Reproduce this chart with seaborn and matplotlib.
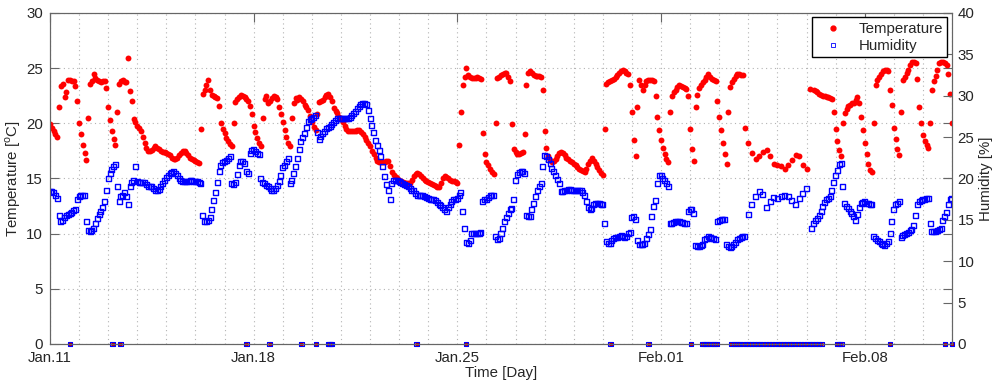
import numpy as np
import pandas as pd
import matplotlib
matplotlib.use("Agg")
import matplotlib.pyplot as plt
import matplotlib.dates as mdates
from matplotlib.lines import Line2D
import seaborn as sns

nan = float("nan")

# logger readings every 1.5 hours starting Jan.11 00:00 (nan = no reading)
start = pd.Timestamp("2013-01-11")

temperature = [
    19.9, 19.6, 19.3, 19.0, 18.8, 21.5, 23.4, 23.6, 22.4, 22.8, 23.9, 23.9, 23.8, 23.8, 23.4, 22.0,  # Jan.11
    20.0, 19.0, 18.0, 17.3, 16.7, 20.5, 23.6, 23.8, 24.5, 24.1, 23.9, 23.8, 23.7, 23.8, 23.8, 23.2,  # Jan.12
    21.5, 20.3, 19.3, 18.6, 18.0, 21.0, 23.6, 23.8, 23.9, 23.7, 23.7, 25.9, 22.9, 22.0, 20.4, 20.1,  # Jan.13
    19.8, 19.6, 19.3, 18.8, 18.2, 17.8, 17.5, 17.5, 17.6, 17.8, 17.9, 17.8, 17.7, 17.5, 17.4, 17.4,  # Jan.14
    17.3, 17.2, 17.1, 16.9, 16.8, 16.8, 16.9, 17.1, 17.3, 17.5, 17.5, 17.3, 17.1, 16.9, 16.8, 16.7,  # Jan.15
    16.6, 16.5, 16.4, 19.5, 22.7, 23.0, 23.5, 23.9, 23.0, 22.6, 22.5, 22.4, 22.3, 21.6, 20.0, 19.5,  # Jan.16
    19.1, 18.7, 18.4, 18.1, 17.9, 20.0, 21.9, 22.2, 22.4, 22.6, 22.5, 22.4, 22.2, 22.0, 21.6, 20.8,  # Jan.17
    19.8, 19.2, 18.7, 18.2, 17.9, 20.5, 22.2, 22.5, 21.8, 22.0, 22.3, 22.5, 22.4, 22.2, 21.5, 20.8,  # Jan.18
    20.1, 19.4, 18.8, 18.2, 17.9, 20.5, 21.8, 22.3, 22.1, 22.4, 22.2, 22.0, 21.7, 21.5, 21.2, 20.7,  # Jan.19
    20.1, 19.7, 19.4, 20.8, 21.9, 22.0, 22.1, 22.4, 22.6, 22.7, 22.4, 22.0, 21.4, 21.1, 20.9, 20.6,  # Jan.20
    20.4, 20.1, 19.8, 19.5, 19.3, 19.3, 19.3, 19.3, 19.3, 19.4, 19.4, 19.2, 19.0, 18.8, 18.5, 18.2,  # Jan.21
    17.9, 17.5, 17.2, 16.9, 16.6, 16.5, 16.5, 16.5, 16.5, 16.6, 16.6, 16.1, 15.6, 15.3, 15.1, 15.0,  # Jan.22
    14.9, 14.8, 14.7, 14.6, 14.6, 14.6, 14.6, 14.9, 15.2, 15.4, 15.5, 15.4, 15.2, 15.0, 14.9, 14.8,  # Jan.23
    14.7, 14.6, 14.5, 14.4, 14.3, 14.2, 14.2, 14.6, 15.0, 15.2, 15.1, 15.0, 14.9, 14.8, 14.8, 14.7,  # Jan.24
    14.6, 18.0, 21.0, 23.5, 24.2, 25.0, 24.4, 24.2, 24.1, 24.1, 24.1, 24.2, 24.1, 24.0, 19.1, 17.2,  # Jan.25
    16.5, 16.2, 15.9, 15.6, 15.4, 20.0, 24.1, 24.2, 24.4, 24.5, 24.6, 24.6, 24.2, 23.8, 19.9, 17.7,  # Jan.26
    17.4, 17.2, 17.2, 17.3, 17.4, 19.0, 23.5, 24.6, 24.7, 24.6, 24.4, 24.3, 24.3, 24.3, 24.2, 23.0,  # Jan.27
    19.3, 17.8, 17.0, 16.7, 16.5, 16.6, 16.8, 17.0, 17.3, 17.4, 17.3, 17.1, 16.9, 16.8, 16.6, 16.5,  # Jan.28
    16.3, 16.2, 16.0, 15.9, 15.8, 15.7, 15.6, 15.9, 16.3, 16.6, 16.9, 16.6, 16.3, 16.0, 15.8, 15.5,  # Jan.29
    15.3, 19.5, 23.6, 23.7, 23.8, 23.9, 24.0, 24.2, 24.4, 24.6, 24.7, 24.8, 24.7, 24.6, 24.5, 23.5,  # Jan.30
    21.0, 18.5, 17.0, 21.5, 23.9, 23.5, 23.0, 23.5, 23.8, 23.9, 23.9, 23.9, 23.8, 22.5, 20.6, 19.4,  # Jan.31
    18.5, 17.8, 17.2, 16.8, 16.5, 21.0, 22.5, 22.8, 23.0, 23.3, 23.5, 23.4, 23.3, 23.2, 23.1, 22.5,  # Feb.01
    19.5, 17.7, 16.6, 21.5, 22.6, 23.2, 23.5, 23.7, 23.9, 24.2, 24.5, 24.2, 24.0, 23.9, 23.8, 22.0,  # Feb.02
    20.6, 19.4, 18.2, 17.2, 16.3, 21.0, 23.3, 23.7, 24.0, 24.3, 24.5, 24.5, 24.4, 24.4, 19.6, nan,   # Feb.03
    18.2, nan, 17.3, nan, 16.8, nan, 17.0, nan, 17.4, nan, 17.6, nan, 17.0, nan, 16.3, nan,          # Feb.04
    16.2, nan, 16.1, nan, 15.9, nan, 16.2, nan, 16.7, nan, 17.1, nan, 17.0, nan, 16.2, nan,          # Feb.05
    15.9, nan, 23.1, nan, 23.0, 22.9, 22.8, 22.7, 22.6, 22.5, 22.5, 22.4, 22.4, 22.3, 22.2, 21.0,    # Feb.06
    19.5, 18.4, 17.6, 17.0, 20.0, 20.9, 21.3, 21.6, 21.7, 21.8, 21.8, 22.1, 22.4, 21.8, 20.6, 19.4,  # Feb.07
    18.2, 17.2, 16.3, 15.8, 15.6, 20.0, 23.5, 23.9, 24.2, 24.5, 24.7, 24.8, 24.8, 24.7, 23.0, 21.7,  # Feb.08
    19.6, 18.6, 17.7, 17.1, 21.0, 23.9, 24.2, 24.6, 24.8, 25.3, 25.6, 25.6, 25.5, 24.0, 21.5, 20.0,  # Feb.09
    18.9, 18.4, 18.0, 17.8, 20.0, 23.0, 23.8, 24.3, 24.8, 25.5, 25.6, 25.6, 25.5, 25.3, 24.5, 22.7,  # Feb.10
    20.0,
]

humidity = [
    18.4, 18.4, 18.3, 18.0, 17.6, 15.5, 14.8, 14.9, 15.3, 15.5, 15.7, 15.8, 15.9, 16.1, 16.3, 17.5,  # Jan.11
    17.8, 18.0, 18.0, 17.9, 14.8, 13.7, 13.6, 13.7, 14.0, 14.6, 15.2, 15.6, 16.0, 16.5, 17.2, 18.5,  # Jan.12
    20.0, 20.6, 21.1, 21.4, 21.7, 19.0, 17.2, 17.8, 18.0, 18.3, 17.8, 16.8, 19.0, 19.5, 19.8, 21.4,  # Jan.13
    19.6, 19.5, 19.5, 19.5, 19.5, 19.3, 19.0, 19.0, 19.0, 18.8, 18.6, 18.6, 18.7, 19.0, 19.4, 19.8,  # Jan.14
    20.1, 20.4, 20.6, 20.7, 20.8, 20.6, 20.3, 20.0, 19.7, 19.6, 19.6, 19.6, 19.6, 19.7, 19.7, 19.6,  # Jan.15
    19.6, 19.6, 19.5, 19.4, 15.5, 14.8, 14.8, 14.9, 15.3, 16.3, 17.3, 18.3, 19.5, 20.9, 21.6, 21.9,  # Jan.16
    22.0, 22.2, 22.4, 22.6, 19.4, 19.3, 19.5, 20.5, 21.6, 22.0, 22.0, 21.8, 20.8, 20.6, 23.0, 23.4,  # Jan.17
    23.5, 23.3, 23.0, 22.9, 20.0, 19.5, 19.4, 19.2, 19.0, 18.8, 18.6, 18.6, 18.8, 19.1, 19.6, 20.3,  # Jan.18
    21.3, 21.6, 22.0, 22.4, 19.4, 19.8, 20.6, 21.5, 22.4, 23.5, 24.5, 25.0, 25.4, 26.1, 26.9, 27.1,  # Jan.19
    27.2, 27.4, 27.6, 25.5, 24.7, 25.1, 25.4, 25.7, 26.0, 26.2, 26.3, 26.5, 26.8, 27.0, 27.2, 27.3,  # Jan.20
    27.3, 27.3, 27.3, 27.3, 27.3, 27.4, 27.6, 27.8, 28.1, 28.4, 28.7, 28.9, 29.1, 29.0, 28.9, 28.2,  # Jan.21
    27.2, 26.4, 25.5, 24.6, 24.0, 23.4, 22.7, 21.5, 20.2, 19.3, 18.5, 17.5, 19.4, 19.7, 19.8, 19.7,  # Jan.22
    19.6, 19.5, 19.4, 19.3, 19.1, 19.0, 18.8, 18.6, 18.5, 18.2, 17.9, 17.9, 18.0, 17.9, 17.8, 17.7,  # Jan.23
    17.6, 17.5, 17.5, 17.4, 17.3, 17.1, 16.9, 16.7, 16.5, 16.2, 16.0, 16.5, 16.9, 17.2, 17.4, 17.5,  # Jan.24
    17.6, 18.0, 18.3, 16.0, 14.0, 12.3, 12.2, 12.5, 13.3, 13.4, 13.4, 13.3, 13.3, 13.5, 17.2, 17.4,  # Jan.25
    17.5, 17.7, 17.9, 17.9, 18.0, 13.0, 12.6, 12.8, 13.3, 14.0, 14.8, 15.3, 15.8, 16.2, 16.4, 17.5,  # Jan.26
    19.8, 20.5, 20.7, 20.8, 20.8, 20.6, 15.5, 15.4, 15.4, 16.2, 17.0, 17.8, 18.6, 19.0, 19.4, 21.5,  # Jan.27
    22.8, 22.6, 22.3, 21.8, 21.2, 20.8, 20.4, 19.9, 19.4, 18.4, 18.4, 18.5, 18.6, 18.7, 18.7, 18.6,  # Jan.28
    18.6, 18.6, 18.6, 18.5, 18.5, 18.3, 17.9, 17.2, 16.5, 16.2, 16.4, 16.8, 17.0, 17.0, 17.0, 16.9,  # Jan.29
    16.9, 14.5, 12.4, 12.2, 12.2, 12.5, 12.8, 12.9, 12.9, 13.0, 13.1, 13.0, 12.9, 13.0, 13.3, 13.5,  # Jan.30
    15.3, 15.4, 15.0, 12.5, 12.0, 12.0, 12.0, 12.1, 12.8, 13.2, 13.8, 15.4, 16.6, 17.3, 19.4, 20.3,  # Jan.31
    20.3, 20.0, 19.7, 19.4, 19.0, 14.5, 14.5, 14.7, 14.8, 14.8, 14.8, 14.7, 14.7, 14.6, 14.6, 16.0,  # Feb.01
    16.2, 16.2, 15.8, 11.9, 11.8, 11.8, 11.9, 12.0, 12.6, 12.8, 13.0, 12.9, 12.8, 12.7, 12.6, 14.8,  # Feb.02
    14.9, 15.0, 15.0, 15.0, 12.0, 11.8, 11.7, 11.8, 12.0, 12.3, 12.6, 12.8, 12.9, 13.0, 13.0, nan,   # Feb.03
    15.6, nan, 16.9, nan, 17.8, nan, 18.4, nan, 18.1, nan, 16.5, nan, 17.2, nan, 17.7, nan,          # Feb.04
    17.6, nan, 17.8, nan, 18.0, nan, 17.8, nan, 17.3, nan, 16.9, nan, 17.6, nan, 18.2, nan,          # Feb.05
    18.8, nan, nan, 14.0, 14.6, 14.9, 15.2, 15.5, 16.0, 16.6, 17.1, 17.4, 17.6, 17.8, 18.5, 19.5,    # Feb.06
    20.4, 21.0, 21.7, 21.8, 19.0, 17.0, 16.6, 16.4, 16.0, 15.8, 15.4, 14.9, 15.6, 16.5, 17.0, 17.1,  # Feb.07
    17.2, 17.0, 17.0, 16.9, 16.8, 13.0, 12.7, 12.5, 12.4, 12.2, 12.0, 11.9, 12.1, 12.4, 13.4, 14.8,  # Feb.08
    16.2, 16.8, 17.0, 17.2, 12.9, 13.1, 13.2, 13.4, 13.5, 13.7, 13.8, 14.3, 15.5, 16.9, 17.2, 17.3,  # Feb.09
    17.4, 17.5, 17.6, 17.6, 14.5, 13.6, 13.6, 13.6, 13.7, 13.8, 14.0, 14.9, 15.4, 15.9, 16.8, 17.4,  # Feb.10
    17.6,
]

# sensor dropouts (both channels read 0), days after Jan.11 00:00
dropout_day = [
    0.69, 2.15, 2.42, 6.75, 7.55, 8.64, 9.15, 9.55, 9.60, 9.65, 9.70,
    12.60, 14.30, 19.27, 20.57, 22.03,
    22.42, 22.48, 22.55, 22.62, 22.70, 22.78, 22.86, 22.93,
    23.42, 23.50, 23.58, 23.65,
    23.71, 23.81, 23.91, 24.01, 24.11, 24.21, 24.31, 24.41, 24.51, 24.61,
    24.71, 24.81, 24.91, 25.01, 25.11, 25.21, 25.31, 25.41, 25.51, 25.61,
    25.71, 25.81, 25.91, 26.01, 26.11, 26.21, 26.31, 26.41, 26.51,
    27.06, 27.13, 27.20, 28.87, 30.76, 30.99,
]

df = pd.DataFrame({
    "time": pd.date_range(start, periods=len(temperature), freq="90min"),
    "temperature": temperature,
    "humidity": humidity,
})
drops = pd.DataFrame({
    "time": start + pd.to_timedelta(dropout_day, unit="D"),
    "value": np.zeros(len(dropout_day)),
})

sns.set_style("white")
plt.rcParams["font.family"] = ["Liberation Sans", "DejaVu Sans"]
plt.rcParams["mathtext.fontset"] = "custom"
plt.rcParams["mathtext.rm"] = "Liberation Sans"
fs = 10.8

fig = plt.figure(figsize=(10, 3.89), dpi=100)
ax = fig.add_axes([0.05, 0.1157, 0.902, 0.851])
ax2 = ax.twinx()

sns.scatterplot(data=df, x="time", y="temperature", ax=ax, color="red",
                s=18, linewidth=0, legend=False)
sns.scatterplot(data=drops, x="time", y="value", ax=ax, color="#c00000",
                s=12, linewidth=0, legend=False, clip_on=False)
sns.scatterplot(data=df, x="time", y="humidity", ax=ax2, marker="s",
                s=13, facecolor="none", edgecolor="blue", linewidth=1.0,
                legend=False)
sns.scatterplot(data=drops, x="time", y="value", ax=ax2, marker="s",
                s=10, facecolor="none", edgecolor="blue", linewidth=0.8,
                legend=False, clip_on=False)

ax.set_xlim(start, start + pd.Timedelta(days=31))
ax.set_xticks(pd.date_range(start, periods=5, freq="7D"))
ax.xaxis.set_major_formatter(mdates.DateFormatter("%b.%d"))
ax.xaxis.set_minor_locator(mdates.DayLocator())
ax.set_ylim(0, 30)
ax.set_yticks(range(0, 31, 5))
ax2.set_ylim(0, 40)
ax2.set_yticks(range(0, 41, 5))

ax.grid(True, which="both", axis="both", linestyle=(0, (1, 3)), color="0.7", linewidth=0.8)
ax.set_axisbelow(True)

ax.tick_params(which="major", direction="in", length=6.5, top=True, right=True,
               labelright=False, color="0.4", labelsize=fs, pad=5)
ax.tick_params(which="minor", length=0)
ax2.tick_params(direction="in", length=6.5, color="0.4", labelsize=fs, pad=4)
for a in (ax, ax2):
    for sp in a.spines.values():
        sp.set_color("0.4")
        sp.set_linewidth(0.8)

ax.set_xlabel("Time [Day]", fontsize=fs, labelpad=1)
ax.set_ylabel(r"Temperature [$^\mathrm{o}$C]", fontsize=fs, labelpad=2)
ax2.set_ylabel("Humidity [%]", fontsize=fs, labelpad=3)

handles = [
    Line2D([], [], linestyle="", marker="o", color="red", markersize=3.5),
    Line2D([], [], linestyle="", marker="s", markerfacecolor="none",
           markeredgecolor="blue", markeredgewidth=0.6, markersize=3.5),
]
ax2.legend(handles, ["Temperature", "Humidity"], loc="upper right",
           bbox_to_anchor=(0.995, 0.987), borderaxespad=0, fancybox=False,
           edgecolor="black", framealpha=1, fontsize=fs, handlelength=2.2,
           handletextpad=0.6, borderpad=0.3, labelspacing=0.2)

plt.savefig("out.png", dpi=100)
